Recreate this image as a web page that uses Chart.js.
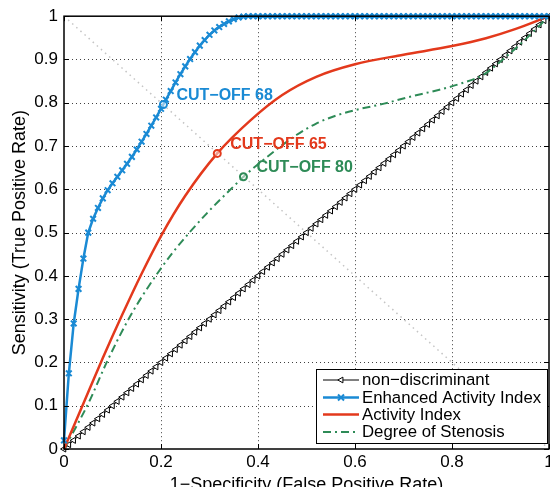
<!DOCTYPE html>
<html>
<head>
<meta charset="utf-8">
<script src="https://cdn.jsdelivr.net/npm/chart.js"></script>
<style>
  html, body { margin: 0; padding: 0; overflow: hidden; background: #fff; }
  canvas { display: block; }
</style>
</head>
<body>
<canvas id="roc" width="560" height="500" style="width:560px;height:500px"></canvas>
<script>
// Tick values / labels
const xTickValues = [0, 0.2, 0.4, 0.6, 0.8, 1];
const xTickLabels = ['0', '0.2', '0.4', '0.6', '0.8', '1'];
const yTickValues = [0, 0.1, 0.2, 0.3, 0.4, 0.5, 0.6, 0.7, 0.8, 0.9, 1];
const yTickLabels = ['0', '0.1', '0.2', '0.3', '0.4', '0.5', '0.6', '0.7', '0.8', '0.9', '1'];

// Common false positive rate grid (markers are drawn at each of these)
const fprGrid = [
  0, 0.01, 0.02, 0.03, 0.04, 0.05, 0.06, 0.07, 0.08, 0.09,
  0.10, 0.11, 0.12, 0.13, 0.14, 0.15, 0.16, 0.17, 0.18, 0.19,
  0.20, 0.21, 0.22, 0.23, 0.24, 0.25, 0.26, 0.27, 0.28, 0.29,
  0.30, 0.31, 0.32, 0.33, 0.34, 0.35, 0.36, 0.37, 0.38, 0.39,
  0.40, 0.41, 0.42, 0.43, 0.44, 0.45, 0.46, 0.47, 0.48, 0.49,
  0.50, 0.51, 0.52, 0.53, 0.54, 0.55, 0.56, 0.57, 0.58, 0.59,
  0.60, 0.61, 0.62, 0.63, 0.64, 0.65, 0.66, 0.67, 0.68, 0.69,
  0.70, 0.71, 0.72, 0.73, 0.74, 0.75, 0.76, 0.77, 0.78, 0.79,
  0.80, 0.81, 0.82, 0.83, 0.84, 0.85, 0.86, 0.87, 0.88, 0.89,
  0.90, 0.91, 0.92, 0.93, 0.94, 0.95, 0.96, 0.97, 0.98, 0.99, 1
];

// Enhanced Activity Index (sensitivity at each fprGrid value)
const enhancedTpr = [
  0.02, 0.175, 0.29, 0.37, 0.44, 0.50, 0.532, 0.557, 0.579, 0.598,
  0.614, 0.629, 0.644, 0.659, 0.675, 0.692, 0.710, 0.728, 0.747, 0.766,
  0.786, 0.807, 0.827, 0.847, 0.866, 0.884, 0.901, 0.917, 0.932, 0.945,
  0.957, 0.967, 0.975, 0.982, 0.988, 0.993, 0.997, 0.999, 1, 1,
  1, 1, 1, 1, 1, 1, 1, 1, 1, 1,
  1, 1, 1, 1, 1, 1, 1, 1, 1, 1,
  1, 1, 1, 1, 1, 1, 1, 1, 1, 1,
  1, 1, 1, 1, 1, 1, 1, 1, 1, 1,
  1, 1, 1, 1, 1, 1, 1, 1, 1, 1,
  1, 1, 1, 1, 1, 1, 1, 1, 1, 1, 1
];

// Activity Index
const activityFpr = [0, 0.04, 0.08, 0.12, 0.16, 0.2, 0.25, 0.316, 0.385, 0.45, 0.52, 0.6, 0.7, 0.8, 0.87, 0.93, 1];
const activityTpr = [0, 0.105, 0.21, 0.31, 0.405, 0.492, 0.585, 0.683, 0.76, 0.818, 0.86, 0.889, 0.911, 0.931, 0.949, 0.97, 1];

// Degree of Stenosis
const stenosisFpr = [0, 0.05, 0.088, 0.133, 0.174, 0.225, 0.294, 0.349, 0.370, 0.42, 0.48, 0.52, 0.56, 0.60, 0.66, 0.71, 0.77, 0.82, 0.865, 0.91, 0.95, 1];
const stenosisTpr = [0, 0.105, 0.20, 0.30, 0.375, 0.455, 0.544, 0.606, 0.629, 0.676, 0.726, 0.752, 0.770, 0.783, 0.798, 0.813, 0.829, 0.845, 0.865, 0.905, 0.945, 1];

// Cut-off points
const cutoffLabels = ['CUT\u2212OFF 68', 'CUT\u2212OFF 65', 'CUT\u2212OFF 80'];
const cutoffFpr = [0.205, 0.316, 0.370];
const cutoffTpr = [0.796, 0.683, 0.629];

const seriesNames = ['non\u2212discriminant', 'Enhanced Activity Index', 'Activity Index', 'Degree of Stenosis'];

const BLUE = '#1a8ad4';
const RED = '#e3391c';
const GREEN = '#2e8b57';
const STENOSIS_DASH = [8, 4, 2, 4];
const cutoffColors = [BLUE, RED, GREEN];

Chart.defaults.font.family = '"Liberation Sans", Arial, Helvetica, sans-serif';
Chart.defaults.color = '#000';

const toPoints = (xs, ys) => xs.map((x, i) => ({x: x, y: ys[i]}));

function drawTriangleLeft(ctx, x, y, r) {
  ctx.beginPath();
  ctx.moveTo(x - r, y);
  ctx.lineTo(x + r * 0.6, y - r * 0.9);
  ctx.lineTo(x + r * 0.6, y + r * 0.9);
  ctx.closePath();
  ctx.fillStyle = '#fff';
  ctx.fill();
  ctx.stroke();
}

function drawCross(ctx, x, y, r) {
  ctx.beginPath();
  ctx.moveTo(x - r, y - r); ctx.lineTo(x + r, y + r);
  ctx.moveTo(x - r, y + r); ctx.lineTo(x + r, y - r);
  ctx.stroke();
}

// grid, box, inner ticks, cut-off labels and legend like a MATLAB axes
const matlabAxes = {
  id: 'matlabAxes',
  beforeDatasetsDraw(chart) {
    const {ctx, chartArea: a, scales: {x, y}} = chart;
    ctx.save();
    ctx.strokeStyle = 'rgba(0,0,0,0.75)';
    ctx.lineWidth = 1;
    ctx.setLineDash([1, 3]);
    xTickValues.slice(1, -1).forEach(v => {
      const px = Math.round(x.getPixelForValue(v)) + 0.5;
      ctx.beginPath(); ctx.moveTo(px, a.top); ctx.lineTo(px, a.bottom); ctx.stroke();
    });
    yTickValues.slice(1, -1).forEach(v => {
      const py = Math.round(y.getPixelForValue(v)) + 0.5;
      ctx.beginPath(); ctx.moveTo(a.left, py); ctx.lineTo(a.right, py); ctx.stroke();
    });
    ctx.restore();
  },
  afterDatasetsDraw(chart) {
    const {ctx, chartArea: a, scales: {x, y}} = chart;
    ctx.save();
    // box
    ctx.strokeStyle = '#000';
    ctx.lineWidth = 1.5;
    ctx.setLineDash([]);
    ctx.strokeRect(a.left, a.top, a.right - a.left, a.bottom - a.top);
    // inward ticks
    ctx.lineWidth = 1;
    const tl = 5;
    xTickValues.forEach(v => {
      const px = Math.round(x.getPixelForValue(v)) + 0.5;
      ctx.beginPath();
      ctx.moveTo(px, a.bottom); ctx.lineTo(px, a.bottom - tl);
      ctx.moveTo(px, a.top); ctx.lineTo(px, a.top + tl);
      ctx.stroke();
    });
    yTickValues.forEach(v => {
      const py = Math.round(y.getPixelForValue(v)) + 0.5;
      ctx.beginPath();
      ctx.moveTo(a.left, py); ctx.lineTo(a.left + tl, py);
      ctx.moveTo(a.right, py); ctx.lineTo(a.right - tl, py);
      ctx.stroke();
    });

    // cut-off labels
    ctx.font = 'bold 16px "Liberation Sans", Arial, sans-serif';
    ctx.textBaseline = 'middle';
    ctx.textAlign = 'left';
    cutoffLabels.forEach((t, i) => {
      ctx.fillStyle = cutoffColors[i];
      ctx.fillText(t, x.getPixelForValue(cutoffFpr[i]) + 13, y.getPixelForValue(cutoffTpr[i]) - 9);
    });

    // legend
    const lx = 316, ly = 369, lw = 231, lh = 74;
    ctx.fillStyle = '#fff';
    ctx.fillRect(lx, ly, lw, lh);
    ctx.strokeStyle = '#000';
    ctx.lineWidth = 1;
    ctx.strokeRect(lx + 0.5, ly + 0.5, lw, lh);
    const rowY = [380, 397.5, 414.5, 432];
    const x0 = 323, x1 = 359, xm = (x0 + x1) / 2;
    // non-discriminant
    ctx.strokeStyle = '#000'; ctx.lineWidth = 1;
    ctx.beginPath(); ctx.moveTo(x0, rowY[0]); ctx.lineTo(x1, rowY[0]); ctx.stroke();
    drawTriangleLeft(ctx, xm, rowY[0], 3.2);
    // enhanced
    ctx.strokeStyle = BLUE; ctx.lineWidth = 2.5;
    ctx.beginPath(); ctx.moveTo(x0, rowY[1]); ctx.lineTo(x1, rowY[1]); ctx.stroke();
    ctx.lineWidth = 2;
    drawCross(ctx, xm, rowY[1], 3);
    // activity
    ctx.strokeStyle = RED; ctx.lineWidth = 2.5;
    ctx.beginPath(); ctx.moveTo(x0, rowY[2]); ctx.lineTo(x1, rowY[2]); ctx.stroke();
    // stenosis
    ctx.strokeStyle = GREEN; ctx.lineWidth = 2;
    ctx.setLineDash(STENOSIS_DASH);
    ctx.beginPath(); ctx.moveTo(x0, rowY[3]); ctx.lineTo(x1, rowY[3]); ctx.stroke();
    ctx.setLineDash([]);
    ctx.fillStyle = '#000';
    ctx.font = '16.8px "Liberation Sans", Arial, sans-serif';
    seriesNames.forEach((n, i) => ctx.fillText(n, 362, rowY[i] + 0.5));
    ctx.restore();
  }
};

new Chart(document.getElementById('roc').getContext('2d'), {
  type: 'scatter',
  data: {
    datasets: [
      {
        label: 'cut-offs',
        data: toPoints(cutoffFpr, cutoffTpr),
        showLine: false,
        pointStyle: 'circle',
        pointRadius: 3.5,
        pointBorderWidth: 2,
        pointBorderColor: cutoffColors,
        pointBackgroundColor: 'rgba(255,255,255,0.5)',
        order: 0,
        clip: false
      },
      {
        label: seriesNames[1],
        data: toPoints(fprGrid, enhancedTpr),
        showLine: true,
        borderColor: BLUE,
        borderWidth: 2.5,
        pointStyle: 'crossRot',
        pointRadius: 4,
        pointBorderWidth: 2,
        pointBorderColor: BLUE,
        order: 1,
        clip: false
      },
      {
        label: seriesNames[2],
        data: toPoints(activityFpr, activityTpr),
        showLine: true,
        borderColor: RED,
        borderWidth: 2.5,
        pointRadius: 0,
        cubicInterpolationMode: 'monotone',
        order: 2,
        clip: false
      },
      {
        label: seriesNames[3],
        data: toPoints(stenosisFpr, stenosisTpr),
        showLine: true,
        borderColor: GREEN,
        borderWidth: 2,
        borderDash: STENOSIS_DASH,
        pointRadius: 0,
        cubicInterpolationMode: 'monotone',
        order: 3,
        clip: false
      },
      {
        label: seriesNames[0],
        data: toPoints(fprGrid, fprGrid),
        showLine: true,
        borderColor: '#000',
        borderWidth: 1,
        pointStyle: 'triangle',
        rotation: 270,
        pointRadius: 3.5,
        pointBorderWidth: 1,
        pointBorderColor: '#000',
        pointBackgroundColor: '#fff',
        order: 4,
        clip: false
      },
      {
        label: 'reference diagonal',
        data: [{x: 0, y: 1}, {x: 1, y: 0}],
        showLine: true,
        borderColor: '#c4c4c4',
        borderWidth: 1.5,
        borderDash: [1.5, 4],
        pointRadius: 0,
        order: 5
      }
    ]
  },
  options: {
    responsive: false,
    animation: false,
    layout: { padding: { left: 0, top: 16, right: 11, bottom: 0 } },
    plugins: {
      legend: { display: false },
      tooltip: { enabled: false }
    },
    scales: {
      x: {
        type: 'linear',
        min: 0,
        max: 1,
        grid: { display: false, drawTicks: false },
        border: { display: false },
        afterBuildTicks: s => { s.ticks = xTickValues.map(v => ({value: v})); },
        afterFit: s => { s.height = 51; },
        ticks: {
          padding: 3,
          font: { size: 17 },
          color: '#000',
          callback: (v, i) => xTickLabels[i]
        },
        title: {
          display: true,
          text: '1\u2212Specificity (False Positive Rate)',
          font: { size: 18 },
          color: '#000',
          padding: { top: 0, bottom: 4 }
        }
      },
      y: {
        type: 'linear',
        min: 0,
        max: 1,
        grid: { display: false, drawTicks: false },
        border: { display: false },
        afterBuildTicks: s => { s.ticks = yTickValues.map(v => ({value: v})); },
        afterFit: s => { s.width = 64; },
        ticks: {
          padding: 6,
          font: { size: 17 },
          color: '#000',
          callback: (v, i) => yTickLabels[i]
        },
        title: {
          display: true,
          text: 'Sensitivity (True Positive Rate)',
          font: { size: 18 },
          color: '#000',
          padding: { top: 9, bottom: 0 }
        }
      }
    }
  },
  plugins: [matlabAxes]
});
</script>
</body>
</html>
